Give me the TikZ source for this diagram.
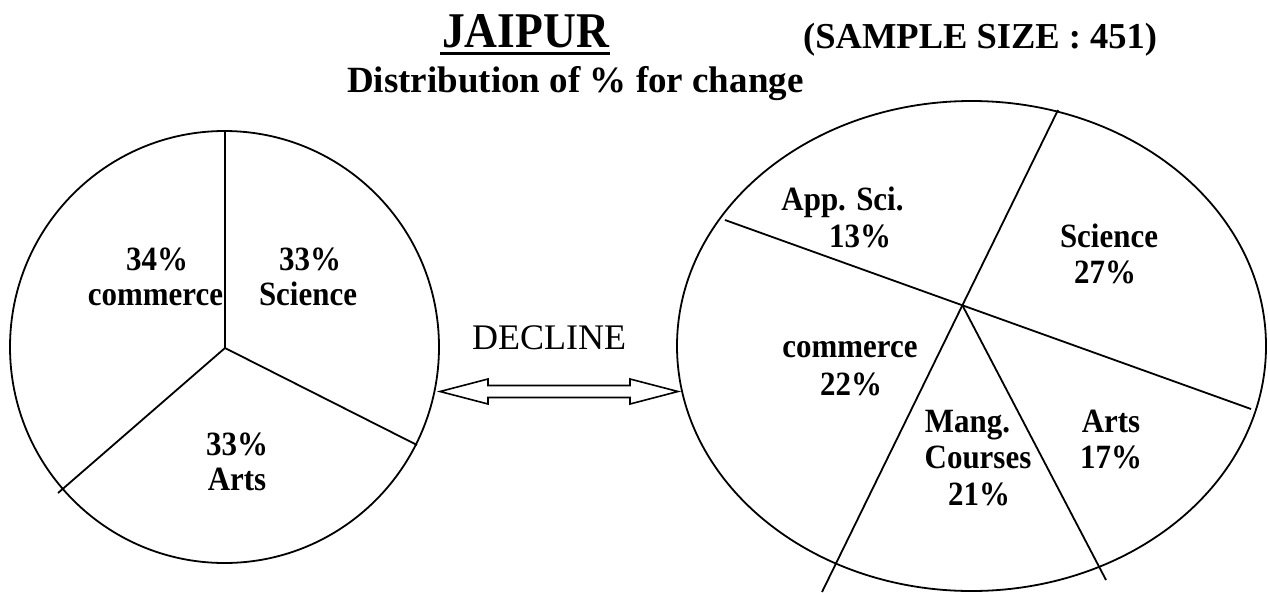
\documentclass[tikz,border=0pt]{standalone}
\usepackage{fontspec}
\setmainfont{Liberation Serif}
\newfontfamily\narrowserif{Liberation Serif}[FakeStretch=0.91]
\usetikzlibrary{calc}
\begin{document}
\begin{tikzpicture}[x=1pt,y=-1pt,
  outline/.style={line width=1.8pt, black},
  arrowline/.style={line width=1.6pt, black, line join=miter},
  lbl/.style={inner sep=0pt, anchor=base, font=\narrowserif\bfseries\fontsize{34}{40}\selectfont},
  heading/.style={inner sep=0pt, anchor=base west, font=\bfseries\fontsize{37}{42}\selectfont},
]
\useasboundingbox (0,0) rectangle (1268,592);
\fill[white] (0,0) rectangle (1268,592);

% ---- headings ----
\node[inner sep=0pt, anchor=base west, font=\narrowserif\bfseries\fontsize{50}{56}\selectfont]
  (city) at (442,47) {JAIPUR};
\draw[line width=3pt] ($(city.base west)+(-2,6)$) -- ($(city.base east)+(1,6)$);
\node[heading, font=\bfseries\fontsize{36.5}{42}\selectfont] (sample) at (803,48) {(SAMPLE SIZE : 451)};
\node[heading] (subtitle) at (347,92) {Distribution of \% for change};

% ---- left pie: three equal shares ----
\coordinate (Lc) at (224.5,347);
\draw[outline] (Lc) ellipse [x radius=214.5pt, y radius=216pt];
\coordinate (Lhub) at (225,348);
\coordinate (Ltop) at (225,131);
\coordinate (Lright) at (417,445);
\coordinate (Lleft) at (58,493);
\draw[outline] (Ltop) -- (Lhub) -- (Lright);
\draw[outline] (Lhub) -- (Lleft);

\node[lbl] (lcomP) at (157,270) {34\%};
\node[lbl] (lcom)  at (155.5,305) {commerce};
\node[lbl] (lsciP) at (310,270) {33\%};
\node[lbl] (lsci)  at (308,305) {Science};
\node[lbl] (lartP) at (237,455) {33\%};
\node[lbl] (lart)  at (237,490) {Arts};

% ---- link between the two pies ----
\node[inner sep=0pt, anchor=base west, font=\fontsize{36}{42}\selectfont] (decline) at (472,349) {DECLINE};
\coordinate (aL) at (440,391.5);
\coordinate (aR) at (678,391.5);
\draw[arrowline] (aL) -- ($(aL)+(48,-12.5)$) -- ($(aL)+(48,-6)$) -- ($(aR)+(-48,-6)$)
  -- ($(aR)+(-48,-12.5)$) -- (aR) -- ($(aR)+(-48,12.5)$) -- ($(aR)+(-48,6)$)
  -- ($(aL)+(48,6)$) -- ($(aL)+(48,12.5)$) -- cycle;

% ---- right pie: five shares ----
\coordinate (Rc) at (971.5,346);
\draw[outline] (Rc) ellipse [x radius=294.5pt, y radius=245pt];
\coordinate (Rhub) at (962.5,305.5);
\coordinate (Rwest) at (725,220);
\coordinate (Reast) at (1251,409);
\coordinate (Rnorth) at (1058,110);
\coordinate (Rsouth) at (822,592);
\coordinate (Rsse) at (1106,580);
\draw[outline] (Rwest) -- (Reast);
\draw[outline] (Rnorth) -- (Rsouth);
\draw[outline] (Rhub) -- (Rsse);

\node[lbl] (rapp)   at (842.5,210) {App. Sci.};
\node[lbl] (rappP)  at (860,247) {13\%};
\node[lbl] (rsci)   at (1109,247) {Science};
\node[lbl] (rsciP)  at (1105,283) {27\%};
\node[lbl] (rcom)   at (850,357) {commerce};
\node[lbl] (rcomP)  at (851,395) {22\%};
\node[lbl] (rman)   at (967.5,432) {Mang.};
\node[lbl] (rcou)   at (978,468) {Courses};
\node[lbl] (rmanP)  at (979,505) {21\%};
\node[lbl] (rart)   at (1111,432) {Arts};
\node[lbl] (rartP)  at (1111,468) {17\%};
\end{tikzpicture}
\end{document}
